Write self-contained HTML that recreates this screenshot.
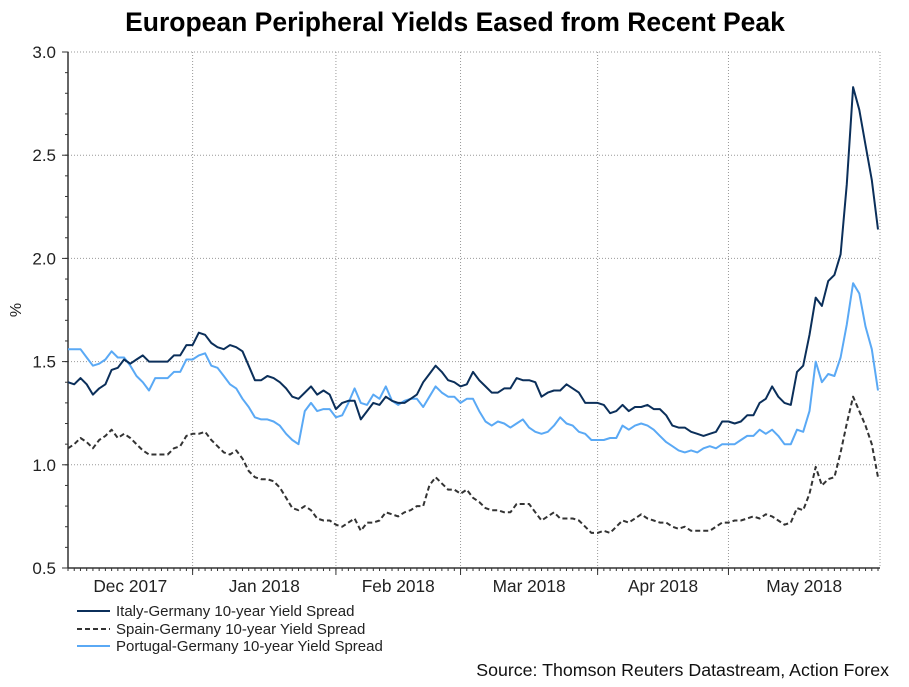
<!DOCTYPE html>
<html><head><meta charset="utf-8"><style>
body{margin:0;background:#fff;width:909px;height:682px;overflow:hidden;font-family:"Liberation Sans",Arial,sans-serif}
svg text{font-family:"Liberation Sans",Arial,sans-serif}
</style></head><body>
<svg id="chart" width="909" height="682" xmlns="http://www.w3.org/2000/svg">
<text x="455" y="31" text-anchor="middle" font-size="26.5" font-weight="bold" fill="#000">European Peripheral Yields Eased from Recent Peak</text>
<text transform="translate(21,310) rotate(-90)" text-anchor="middle" font-size="16" fill="#222">%</text>
<g id="grid"></g>
<g id="axes"></g>
<g id="series"></g>
<g>
<line x1="77" y1="611" x2="110" y2="611" stroke="#0b2f5a" stroke-width="2"/>
<text x="116" y="616" font-size="15" fill="#222">Italy-Germany 10-year Yield Spread</text>
<line x1="77" y1="629" x2="110" y2="629" stroke="#333" stroke-width="2" stroke-dasharray="5,3"/>
<text x="116" y="634" font-size="15" fill="#222">Spain-Germany 10-year Yield Spread</text>
<line x1="77" y1="646" x2="110" y2="646" stroke="#5aa9f5" stroke-width="2"/>
<text x="116" y="651" font-size="15" fill="#222">Portugal-Germany 10-year Yield Spread</text>
</g>
<text x="889" y="676" text-anchor="end" font-size="17.8" fill="#111">Source: Thomson Reuters Datastream, Action Forex</text>
</svg>
<script>
const yTicks=[0.5,1.0,1.5,2.0,2.5,3.0];
const yTickLabels=["0.5","1.0","1.5","2.0","2.5","3.0"];
const monthLabels=["Dec 2017","Jan 2018","Feb 2018","Mar 2018","Apr 2018","May 2018"];
const monthStarts=[0,20,43,63,85,106];
const italy=[1.40,1.39,1.42,1.39,1.34,1.37,1.39,1.46,1.47,1.51,1.49,1.51,1.53,1.50,1.50,1.50,1.50,1.53,1.53,1.58,1.58,1.64,1.63,1.59,1.57,1.56,1.58,1.57,1.55,1.48,1.41,1.41,1.43,1.42,1.40,1.37,1.33,1.32,1.35,1.38,1.34,1.36,1.34,1.27,1.30,1.31,1.31,1.22,1.26,1.30,1.29,1.33,1.31,1.30,1.30,1.32,1.34,1.40,1.44,1.48,1.45,1.41,1.40,1.38,1.39,1.45,1.41,1.38,1.35,1.35,1.37,1.37,1.42,1.41,1.41,1.40,1.33,1.35,1.36,1.36,1.39,1.37,1.35,1.30,1.30,1.30,1.29,1.25,1.26,1.29,1.26,1.28,1.28,1.29,1.27,1.27,1.24,1.19,1.18,1.18,1.16,1.15,1.14,1.15,1.16,1.21,1.21,1.20,1.21,1.24,1.24,1.30,1.32,1.38,1.33,1.30,1.29,1.45,1.48,1.63,1.81,1.77,1.89,1.92,2.02,2.36,2.83,2.72,2.55,2.38,2.14];
const spain=[1.08,1.10,1.13,1.11,1.08,1.12,1.14,1.17,1.13,1.15,1.13,1.10,1.07,1.05,1.05,1.05,1.05,1.08,1.09,1.14,1.15,1.15,1.16,1.12,1.09,1.06,1.05,1.07,1.03,0.97,0.94,0.93,0.93,0.92,0.89,0.84,0.79,0.78,0.80,0.78,0.74,0.73,0.73,0.71,0.70,0.72,0.74,0.68,0.72,0.72,0.73,0.77,0.76,0.75,0.77,0.78,0.80,0.80,0.90,0.94,0.91,0.88,0.88,0.86,0.88,0.84,0.82,0.79,0.78,0.78,0.77,0.77,0.81,0.81,0.81,0.77,0.73,0.75,0.77,0.74,0.74,0.74,0.73,0.70,0.67,0.67,0.68,0.67,0.70,0.73,0.72,0.74,0.76,0.74,0.73,0.72,0.72,0.70,0.69,0.70,0.68,0.68,0.68,0.68,0.70,0.72,0.72,0.73,0.73,0.74,0.75,0.74,0.76,0.75,0.73,0.71,0.72,0.79,0.78,0.86,0.99,0.90,0.93,0.94,1.06,1.20,1.33,1.26,1.19,1.10,0.94];
const portugal=[1.56,1.56,1.56,1.52,1.48,1.49,1.51,1.55,1.52,1.52,1.48,1.43,1.40,1.36,1.42,1.42,1.42,1.45,1.45,1.51,1.51,1.53,1.54,1.48,1.47,1.43,1.39,1.37,1.32,1.28,1.23,1.22,1.22,1.21,1.19,1.15,1.12,1.10,1.26,1.30,1.26,1.27,1.27,1.23,1.24,1.30,1.37,1.30,1.29,1.34,1.32,1.38,1.31,1.29,1.31,1.32,1.32,1.28,1.33,1.38,1.35,1.33,1.33,1.30,1.32,1.32,1.26,1.21,1.19,1.21,1.20,1.18,1.20,1.22,1.18,1.16,1.15,1.16,1.19,1.23,1.20,1.19,1.16,1.15,1.12,1.12,1.12,1.13,1.13,1.19,1.17,1.19,1.20,1.19,1.17,1.14,1.11,1.09,1.07,1.06,1.07,1.06,1.08,1.09,1.08,1.10,1.10,1.10,1.12,1.14,1.14,1.17,1.15,1.17,1.14,1.10,1.10,1.17,1.16,1.26,1.50,1.40,1.44,1.43,1.52,1.68,1.88,1.83,1.67,1.56,1.36];

const NS="http://www.w3.org/2000/svg";
const X0=68,X1=880,Y0=568,Y1=52,N=italy.length;
const step=(X1-2-X0)/(N-1);
function xs(i){return X0+i*step;}
function ys(v){return Y0-(v-0.5)/(3.0-0.5)*(Y0-Y1);}
function mk(t,a,p){const e=document.createElementNS(NS,t);for(const k in a)e.setAttribute(k,a[k]);p.appendChild(e);return e;}
const grid=document.getElementById('grid'),axes=document.getElementById('axes'),ser=document.getElementById('series');
yTicks.forEach((v,k)=>{
  if(k>0){const g=mk('line',{x1:X0,x2:X1,y1:ys(v),y2:ys(v),stroke:'#999','stroke-width':1,'stroke-dasharray':'1,2'},grid);
  
  }
  const t=mk('text',{x:56,y:ys(v)+6,'text-anchor':'end','font-size':17,fill:'#222'},axes);t.textContent=yTickLabels[k];
  
  
  mk('line',{x1:X0-6,x2:X0,y1:ys(v),y2:ys(v),stroke:'#333'},axes);
});
for(let v=0.6;v<3.0;v+=0.1){mk('line',{x1:X0-3,x2:X0,y1:ys(v),y2:ys(v),stroke:'#333'},axes);}
const rg=mk('line',{x1:X1,x2:X1,y1:Y1,y2:Y0,stroke:'#999','stroke-dasharray':'1,2'},grid);


for(let i=0;i<N;i++){mk('line',{x1:xs(i),x2:xs(i),y1:Y0,y2:Y0+3,stroke:'#333'},axes);}
monthStarts.forEach((s,k)=>{
  const x=xs(s);
  if(k>0){const g=mk('line',{x1:x,x2:x,y1:Y1,y2:Y0,stroke:'#999','stroke-dasharray':'1,2'},grid);
  
  
  mk('line',{x1:x,x2:x,y1:Y0,y2:Y0+7,stroke:'#333'},axes);}
  const e=k<monthStarts.length-1?xs(monthStarts[k+1]):X1;
  const st=k>0?x:X0;
  const t=mk('text',{x:(st+e)/2,y:592,'text-anchor':'middle','font-size':17.3,fill:'#222'},axes);t.textContent=monthLabels[k];
  
  
});
mk('line',{x1:X0,x2:X0,y1:Y1,y2:Y0,stroke:'#333','stroke-width':1.5},axes);
mk('line',{x1:X0,x2:X1,y1:Y0,y2:Y0,stroke:'#333','stroke-width':1.5},axes);
function line(arr,color,dash,name){
  const d=arr.map((v,i)=>(i?'L':'M')+xs(i).toFixed(1)+','+ys(v).toFixed(1)).join('');
  const p=mk('path',{d:d,fill:'none',stroke:color,'stroke-width':2,'stroke-linejoin':'round'},ser);
  if(dash)p.setAttribute('stroke-dasharray',dash);
  
  
}
line(spain,'#333','5,3','spain-line');
line(portugal,'#5aa9f5',null,'portugal-line');
line(italy,'#0b2f5a',null,'italy-line');
</script>
</body></html>
